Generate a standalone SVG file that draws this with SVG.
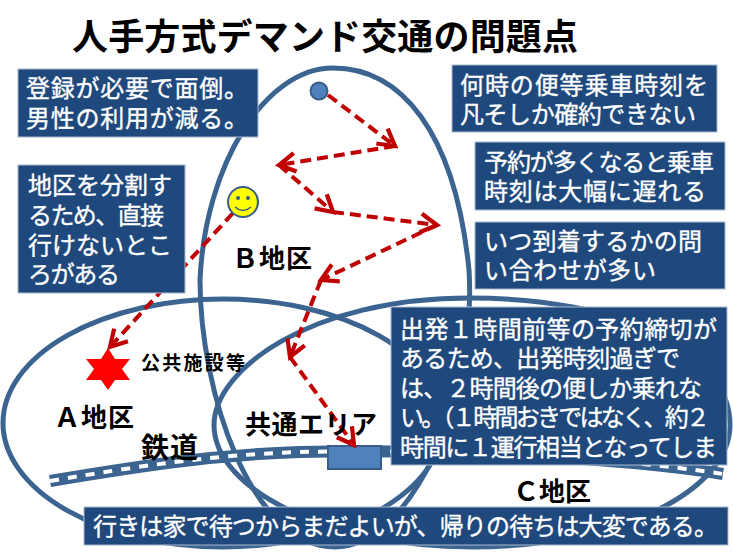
<svg xmlns="http://www.w3.org/2000/svg" width="733" height="553" viewBox="0 0 733 553">
<style>
text{font-family:"Liberation Sans","Noto Sans CJK JP",sans-serif}
.area{fill:none;stroke:#3c6491;stroke-width:5}
.box{fill:#1f497d;stroke:#a9b9cf;stroke-width:1}
.t{fill:#fff;font-size:24px;stroke:#fff;stroke-width:.35}
.l{fill:#000;font-weight:700}
.a{fill:none;stroke:#c00000;stroke-width:4;stroke-dasharray:11 6;marker-end:url(#arr)}
</style>
<defs>
<marker id="arr" markerUnits="userSpaceOnUse" markerWidth="28" markerHeight="28" refX="20" refY="10" viewBox="0 0 24 20" orient="auto"><path d="M6 2L20 10L6 18" fill="none" stroke="#c00000" stroke-width="3.6"/></marker>
</defs>
<rect width="733" height="553" fill="#fff"/>
<text id="title" class="l" x="72" y="50" font-size="36" textLength="506" lengthAdjust="spacing">人手方式デマンド交通の問題点</text>
<g id="areas">
<path id="area-b" class="area" d="M333 68C400 68 455 130 469 270C477 400 410 547 335 547C250 547 200 390 200 280C205 165 265 68 333 68Z"/>
<ellipse id="area-a" class="area" cx="223" cy="423" rx="220" ry="124"/>
<path id="area-c" class="area" d="M214 425C214 370 310 298 470 298C620 298 730 350 730 425C730 490 620 547 472 547C330 547 214 490 214 425Z"/>
</g>
<g id="railway">
<path d="M50 481C140 466 210 455 300 452C420 449 610 456 723 474" fill="none" stroke="#3c6491" stroke-width="12"/>
<path d="M50 481C140 466 210 455 300 452C420 449 610 456 723 474" fill="none" stroke="#fff" stroke-width="4" stroke-dasharray="9 9"/>
<rect x="328" y="446" width="53" height="23" fill="#4f81bd" stroke="#385d8a" stroke-width="2"/>
</g>
<g id="connectors">
<path class="a" d="M328 95L395 146"/>
<path class="a" d="M395 146L279 165"/>
<path class="a" d="M279 165L333 212"/>
<path class="a" d="M333 212L437 225"/>
<path class="a" d="M437 225L321 280"/>
<path class="a" d="M321 280L290 357"/>
<path class="a" d="M290 357L354 445"/>
<path class="a" d="M233 213L110 347"/>
</g>
<g id="origin"><circle cx="319" cy="91" r="8.5" fill="#4f81bd" stroke="#385d8a" stroke-width="2"/></g>
<g id="smiley">
<circle cx="243" cy="202" r="15" fill="#ffff00" stroke="#385d8a" stroke-width="2"/>
<circle cx="238" cy="198" r="2" fill="#385d8a"/><circle cx="248" cy="198" r="2" fill="#385d8a"/>
<path d="M235 207Q243 214 251 207" fill="none" stroke="#385d8a" stroke-width="1.5"/>
</g>
<g id="facility">
<path d="M108 348L115 359L130 359L122 369L130 380L115 380L108 390L101 380L86 380L94 369L86 359L101 359Z" fill="#f00"/>
<text class="l" x="141" y="370" font-size="19" textLength="104" lengthAdjust="spacing">公共施設等</text>
</g>
<g id="labels">
<text class="l" x="54" y="427" font-size="26" textLength="80" lengthAdjust="spacing">Ａ地区</text>
<text class="l" x="232" y="268" font-size="26" textLength="80" lengthAdjust="spacing">Ｂ地区</text>
<text class="l" x="513" y="501" font-size="26" textLength="78" lengthAdjust="spacing">Ｃ地区</text>
<text class="l" x="141" y="458" font-size="28" textLength="57" lengthAdjust="spacing">鉄道</text>
<text class="l" x="245" y="434" font-size="26" textLength="132" lengthAdjust="spacing">共通エリア</text>
</g>
<g id="note-register">
<rect class="box" x="18" y="69" width="240" height="68"/>
<text class="t" x="26" y="97" textLength="222" lengthAdjust="spacing">登録が必要で面倒。</text>
<text class="t" x="26" y="127" textLength="222" lengthAdjust="spacing">男性の利用が減る。</text>
</g>
<g id="note-time">
<rect class="box" x="452" y="65" width="265" height="67"/>
<text class="t" x="460" y="94" textLength="248" lengthAdjust="spacing">何時の便等乗車時刻を</text>
<text class="t" x="460" y="123" textLength="236" lengthAdjust="spacing">凡そしか確約できない</text>
</g>
<g id="note-delay">
<rect class="box" x="475" y="142" width="250" height="68"/>
<text class="t" x="484" y="171" textLength="230" lengthAdjust="spacing">予約が多くなると乗車</text>
<text class="t" x="484" y="200" textLength="222" lengthAdjust="spacing">時刻は大幅に遅れる</text>
</g>
<g id="note-inquiry">
<rect class="box" x="475" y="222" width="250" height="67"/>
<text class="t" x="484" y="250" textLength="218" lengthAdjust="spacing">いつ到着するかの問</text>
<text class="t" x="484" y="279" textLength="172" lengthAdjust="spacing">い合わせが多い</text>
</g>
<g id="note-district">
<rect class="box" x="18" y="165" width="167" height="128"/>
<text class="t" x="28" y="194" textLength="144" lengthAdjust="spacing">地区を分割す</text>
<text class="t" x="28" y="224" textLength="136" lengthAdjust="spacing">るため、直接</text>
<text class="t" x="28" y="254" textLength="144" lengthAdjust="spacing">行けないとこ</text>
<text class="t" x="28" y="283" textLength="92" lengthAdjust="spacing">ろがある</text>
</g>
<g id="note-deadline">
<rect class="box" x="391" y="307" width="336" height="158"/>
<text class="t" x="400" y="338" textLength="317" lengthAdjust="spacing">出発１時間前等の予約締切が</text>
<text class="t" x="400" y="367" textLength="280" lengthAdjust="spacing">あるため、出発時刻過ぎで</text>
<text class="t" x="400" y="397" textLength="302" lengthAdjust="spacing">は、２時間後の便しか乗れな</text>
<text class="t" x="400" y="426" textLength="310" lengthAdjust="spacing">い。（１時間おきではなく、約２</text>
<text class="t" x="400" y="456" textLength="317" lengthAdjust="spacing">時間に１運行相当となってしま</text>
</g>
<g id="note-wait">
<rect class="box" x="84" y="507" width="644" height="38"/>
<text class="t" x="93" y="535" textLength="625" lengthAdjust="spacing">行きは家で待つからまだよいが、帰りの待ちは大変である。</text>
</g>
</svg>
